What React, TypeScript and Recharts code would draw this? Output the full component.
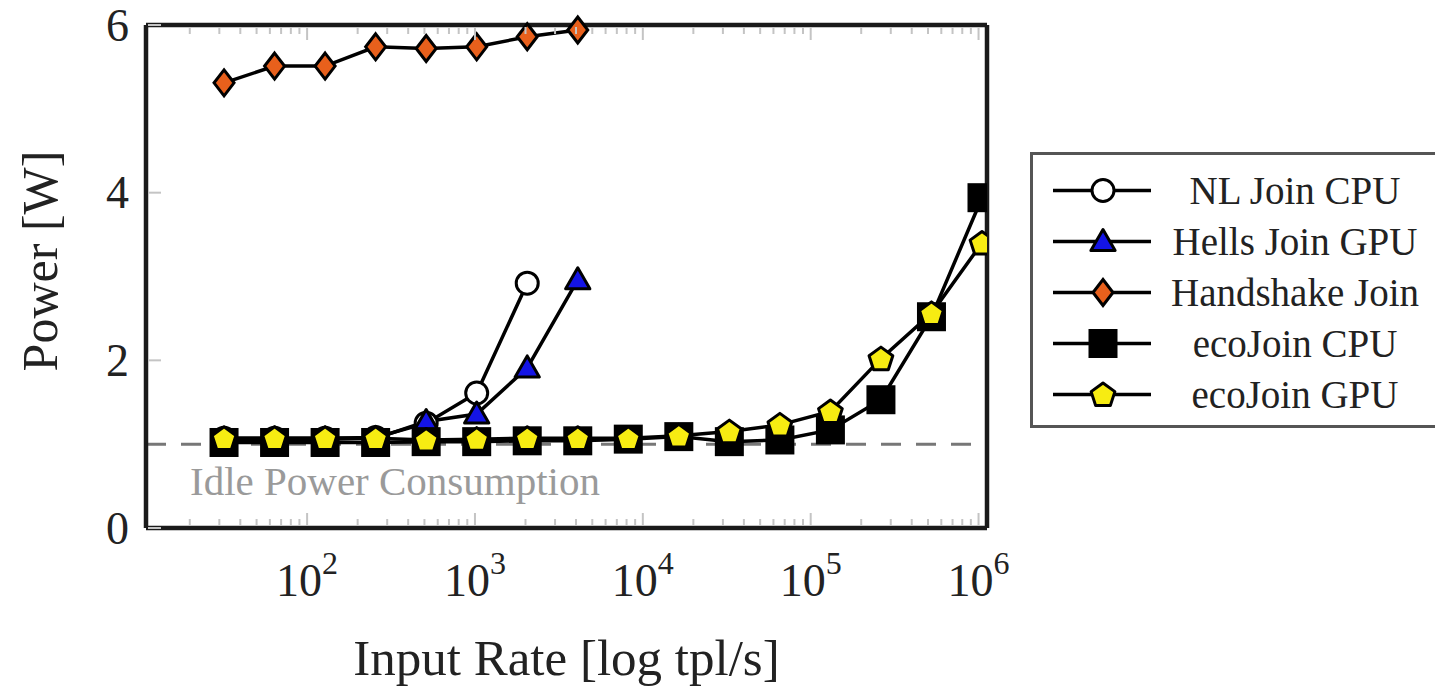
import React from 'react'
import {
    LineChart,
    Line,
    XAxis,
    YAxis,
    ReferenceLine,
    Legend,
} from 'recharts'

const FONT = '"Liberation Serif", "DejaVu Serif", serif'

// input rates (tpl/s), 2^5 .. 2^20
const rates = [32, 64, 128, 256, 512, 1024, 2048, 4096, 8192, 16384, 32768, 65536, 131072, 262144, 524288, 1048576]

const nlJoinCpu = [1.07, 1.07, 1.07, 1.08, 1.25, 1.61, 2.92]
const hellsJoinGpu = [1.05, 1.06, 1.06, 1.07, 1.27, 1.36, 1.91, 2.96]
const handshakeJoin = [5.31, 5.51, 5.51, 5.74, 5.72, 5.74, 5.86, 5.94]
const ecoJoinCpu = [1.02, 1.02, 1.02, 1.02, 1.03, 1.03, 1.04, 1.04, 1.06, 1.09, 1.03, 1.05, 1.17, 1.53, 2.52, 3.94]
const ecoJoinGpu = [1.07, 1.07, 1.07, 1.07, 1.05, 1.06, 1.07, 1.07, 1.07, 1.1, 1.15, 1.23, 1.39, 2.02, 2.56, 3.4]

const majorTicks = [100, 1000, 10000, 100000, 1000000]
const majorExponents = ['2', '3', '4', '5', '6']
const decades = [10, 100, 1000, 10000, 100000]
const minorTicks = decades.flatMap((d) => [2, 3, 4, 5, 6, 7, 8, 9].map((m) => m * d))
const xTicks = [...minorTicks, ...majorTicks].sort((a, b) => a - b)
const yTicks = [0, 2, 4, 6]
const idlePower = 1

const data = rates.map((rate, i) => ({
    rate,
    nl: nlJoinCpu[i],
    hells: hellsJoinGpu[i],
    handshake: handshakeJoin[i],
    ecoCpu: ecoJoinCpu[i],
    ecoGpu: ecoJoinGpu[i],
}))

const TICK_COLOR = '#c4c4c4'
const FRAME = { stroke: '#1a1a1a', strokeWidth: 4.5 }

function Marker({ kind, cx, cy }: { kind: string; cx: number; cy: number }) {
    const sw = 3
    if (kind === 'circle') {
        return <circle cx={cx} cy={cy} r={11} fill="#fff" stroke="#000" strokeWidth={sw} />
    }
    if (kind === 'triangle') {
        const r = 14
        const pts = [0, 1, 2]
            .map((k) => {
                const a = -Math.PI / 2 + (k * 2 * Math.PI) / 3
                return `${cx + r * Math.cos(a)},${cy + 2 + r * Math.sin(a)}`
            })
            .join(' ')
        return <polygon points={pts} fill="#1414e6" stroke="#000" strokeWidth={sw} strokeLinejoin="round" />
    }
    if (kind === 'diamond') {
        const pts = `${cx},${cy - 13} ${cx + 10},${cy} ${cx},${cy + 13} ${cx - 10},${cy}`
        return <polygon points={pts} fill="#e8601c" stroke="#000" strokeWidth={sw} />
    }
    if (kind === 'square') {
        return <rect x={cx - 13} y={cy - 13} width={26} height={26} fill="#000" stroke="#000" strokeWidth={sw} />
    }
    const r = 12.5
    const pts = [0, 1, 2, 3, 4]
        .map((k) => {
            const a = -Math.PI / 2 + (k * 2 * Math.PI) / 5
            return `${cx + r * Math.cos(a)},${cy + 1 + r * Math.sin(a)}`
        })
        .join(' ')
    return <polygon points={pts} fill="#f7ec12" stroke="#000" strokeWidth={sw} strokeLinejoin="round" />
}

const makeDot = (kind: string) => (props: any) => {
    const { cx, cy, index } = props
    if (cx == null || cy == null || props.value == null) return <g key={`${kind}-${index}`} />
    return (
        <g key={`${kind}-${index}`}>
            <Marker kind={kind} cx={cx} cy={cy} />
        </g>
    )
}

const series = [
    { key: 'nl', name: 'NL Join CPU', kind: 'circle' },
    { key: 'hells', name: 'Hells Join GPU', kind: 'triangle' },
    { key: 'handshake', name: 'Handshake Join', kind: 'diamond' },
    { key: 'ecoCpu', name: 'ecoJoin CPU', kind: 'square' },
    { key: 'ecoGpu', name: 'ecoJoin GPU', kind: 'pentagon' },
]

const BottomTick = (props: any) => {
    const { x, y, payload } = props
    const idx = majorTicks.indexOf(payload.value)
    const major = idx >= 0
    return (
        <g>
            <line x1={x} x2={x} y1={y - 2} y2={y - (major ? 15 : 9)} stroke={TICK_COLOR} strokeWidth={2} />
            {major && (
                <text x={x} y={y + 68} textAnchor="middle" fontSize={46} fontFamily={FONT} fill="#222">
                    10
                    <tspan dy={-22} fontSize={32}>
                        {majorExponents[idx]}
                    </tspan>
                </text>
            )}
        </g>
    )
}

const TopTick = (props: any) => {
    const { x, y, payload } = props
    const major = majorTicks.includes(payload.value)
    return <line x1={x} x2={x} y1={y + 2} y2={y + (major ? 15 : 9)} stroke={TICK_COLOR} strokeWidth={2} />
}

const LeftTick = (props: any) => {
    const { x, y, payload } = props
    return (
        <g>
            <line x1={x + 2} x2={x + 15} y1={y} y2={y} stroke={TICK_COLOR} strokeWidth={2} />
            <text x={x - 17} y={y} dy="0.34em" textAnchor="end" fontSize={46} fontFamily={FONT} fill="#222">
                {payload.value}
            </text>
        </g>
    )
}

const RightTick = (props: any) => {
    const { x, y } = props
    return <line x1={x - 2} x2={x - 15} y1={y} y2={y} stroke={TICK_COLOR} strokeWidth={2} />
}

function LegendBox() {
    return (
        <div
            style={{
                border: '3px solid #555',
                boxSizing: 'border-box',
                width: 440,
                height: 276,
                background: '#fff',
                paddingTop: 10,
                fontFamily: FONT,
            }}
        >
            {series.map((s) => (
                <div key={s.key} style={{ display: 'flex', alignItems: 'center', height: 51 }}>
                    <svg width={100} height={51} style={{ marginLeft: 20 }}>
                        <line x1={0} x2={98} y1={25.5} y2={25.5} stroke="#000" strokeWidth={3.5} />
                        <Marker kind={s.kind} cx={50} cy={25.5} />
                    </svg>
                    <div style={{ width: 264, marginLeft: 10, textAlign: 'center', fontSize: 39, color: '#222' }}>
                        {s.name}
                    </div>
                </div>
            ))}
        </div>
    )
}

export default function App() {
    return (
        <div style={{ position: 'absolute', left: 0, top: 0, width: 1435, height: 693, background: '#fff', overflow: 'hidden' }}>
            <LineChart
                width={1435}
                height={693}
                data={data}
                margin={{ top: 24, right: 447, bottom: 164, left: 145 }}
            >
                <XAxis
                    xAxisId="bottom"
                    dataKey="rate"
                    type="number"
                    scale="log"
                    domain={[10.97, 1123000]}
                    allowDataOverflow
                    ticks={xTicks}
                    interval={0}
                    tick={BottomTick}
                    tickLine={false}
                    tickSize={0}
                    tickMargin={0}
                    height={1}
                    axisLine={FRAME}
                    label={{
                        content: (p: any) => (
                            <text
                                x={p.viewBox.x + p.viewBox.width / 2}
                                y={p.viewBox.y + 147}
                                textAnchor="middle"
                                fontSize={51}
                                fontFamily={FONT}
                                fill="#222"
                            >
                                Input Rate [log tpl/s]
                            </text>
                        ),
                    }}
                />
                <XAxis
                    xAxisId="top"
                    orientation="top"
                    dataKey="rate"
                    type="number"
                    scale="log"
                    domain={[10.97, 1123000]}
                    allowDataOverflow
                    ticks={xTicks}
                    interval={0}
                    tick={TopTick}
                    tickLine={false}
                    tickSize={0}
                    tickMargin={0}
                    height={1}
                    axisLine={FRAME}
                />
                <YAxis
                    yAxisId="left"
                    type="number"
                    domain={[0, 6]}
                    ticks={yTicks}
                    interval={0}
                    tick={LeftTick}
                    tickLine={false}
                    tickSize={0}
                    tickMargin={0}
                    width={1}
                    axisLine={FRAME}
                    label={{
                        content: () => (
                            <text
                                transform="translate(57,261) rotate(-90)"
                                textAnchor="middle"
                                fontSize={50}
                                fontFamily={FONT}
                                fill="#222"
                            >
                                Power [W]
                            </text>
                        ),
                    }}
                />
                <YAxis
                    yAxisId="right"
                    orientation="right"
                    type="number"
                    domain={[0, 6]}
                    ticks={yTicks}
                    interval={0}
                    tick={RightTick}
                    tickLine={false}
                    tickSize={0}
                    tickMargin={0}
                    width={1}
                    axisLine={FRAME}
                />
                <ReferenceLine
                    xAxisId="bottom"
                    yAxisId="left"
                    y={idlePower}
                    stroke="#777"
                    strokeWidth={3}
                    strokeDasharray="20 15"
                    label={{
                        content: (p: any) => (
                            <text
                                x={p.viewBox.x + 44}
                                y={p.viewBox.y + 51}
                                fontSize={41}
                                fontFamily={FONT}
                                fill="#9a9a9a"
                            >
                                Idle Power Consumption
                            </text>
                        ),
                    }}
                />
                {series.map((s) => (
                    <Line
                        key={s.key}
                        xAxisId="bottom"
                        yAxisId="left"
                        dataKey={s.key}
                        name={s.name}
                        type="linear"
                        stroke="#000"
                        strokeWidth={3.5}
                        dot={makeDot(s.kind)}
                        activeDot={false}
                        isAnimationActive={false}
                    />
                ))}
                <Legend
                    layout="horizontal"
                    verticalAlign="middle"
                    align="center"
                    content={() => <LegendBox />}
                    wrapperStyle={{ left: 1030, top: 152, width: 440, height: 276 }}
                />
            </LineChart>
        </div>
    )
}
